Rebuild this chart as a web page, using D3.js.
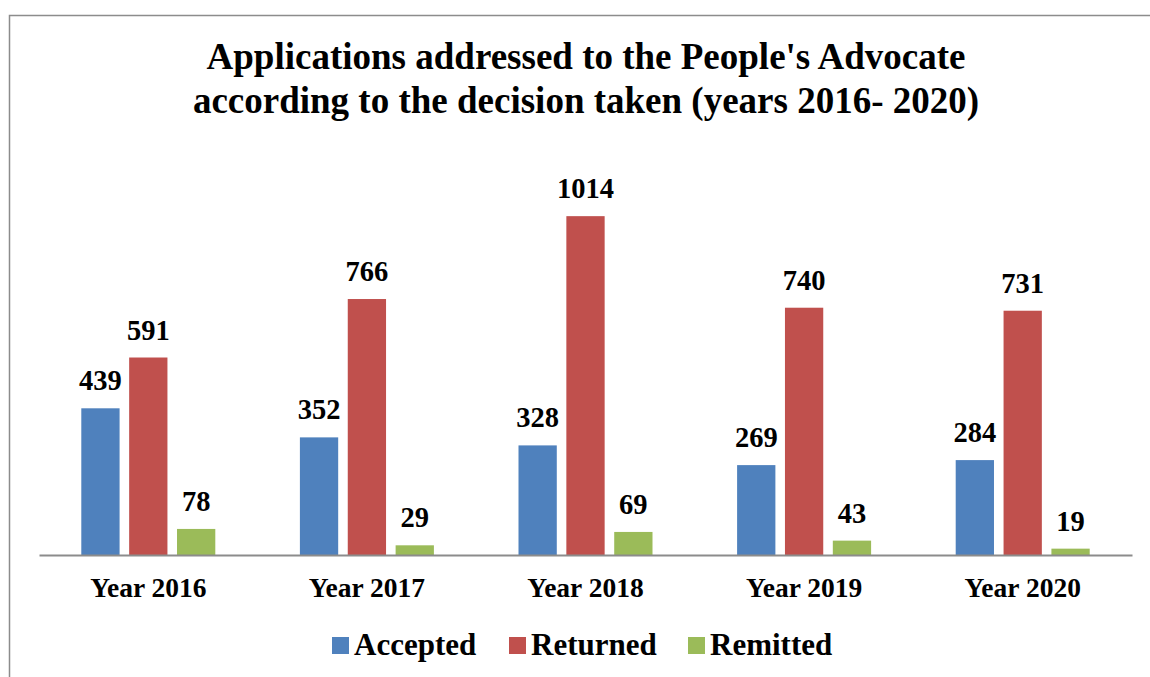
<!DOCTYPE html>
<html>
<head>
<meta charset="utf-8">
<script src="https://cdn.jsdelivr.net/npm/d3@7"></script>
<style>
  body { margin: 0; background: #fff; }
  svg { display: block; font-family: "Liberation Serif", "Times New Roman", serif; font-weight: bold; }
</style>
</head>
<body>
<svg id="chart" width="1150" height="677"></svg>
<script>
// data
const years = ["Year 2016", "Year 2017", "Year 2018", "Year 2019", "Year 2020"];
const seriesNames = ["Accepted", "Returned", "Remitted"];
const accepted = [439, 352, 328, 269, 284];
const returned = [591, 766, 1014, 740, 731];
const remitted = [78, 29, 69, 43, 19];
const colors = ["#4F81BD", "#C0504D", "#9BBB59"];
const titleLines = ["Applications addressed to the People's Advocate",
                    "according to the decision taken (years 2016- 2020)"];

const seriesValues = [accepted, returned, remitted];
const rows = years.map((y, i) => ({
  year: y,
  values: seriesNames.map((s, j) => ({ key: s, value: seriesValues[j][i], color: colors[j] }))
}));

const svg = d3.select("#chart");

// outer frame (only left and top edges are visible)
svg.append("rect")
    .attr("x", 9.5).attr("y", 15.5)
    .attr("width", 1300).attr("height", 800)
    .attr("fill", "none").attr("stroke", "#8c8c8c").attr("stroke-width", 1.5);

// title
svg.append("text")
    .attr("x", 586).attr("y", 69)
    .attr("text-anchor", "middle")
    .attr("font-size", "37px")
    .selectAll("tspan")
    .data(titleLines)
    .join("tspan")
    .attr("x", 586)
    .attr("dy", (d, i) => i === 0 ? 0 : 44)
    .text(d => d);

const x0 = d3.scaleBand().domain(years).range([39, 1132]);
const x1 = d3.scaleBand().domain(seriesNames).range([0, 134]).paddingInner(0.2);
const y = d3.scaleLinear().domain([0, 1200]).range([555, 154]);

const groups = svg.append("g").selectAll("g")
    .data(rows)
    .join("g")
    .attr("transform", d => `translate(${x0(d.year) + x0.bandwidth() / 2 - 67},0)`);

groups.selectAll("rect")
    .data(d => d.values)
    .join("rect")
    .attr("x", d => x1(d.key))
    .attr("width", x1.bandwidth())
    .attr("y", d => y(d.value))
    .attr("height", d => y(0) - y(d.value))
    .attr("fill", d => d.color);

groups.selectAll("text")
    .data(d => d.values)
    .join("text")
    .attr("x", d => x1(d.key) + x1.bandwidth() / 2)
    .attr("y", d => y(d.value) - 18)
    .attr("text-anchor", "middle")
    .attr("font-size", "28.5px")
    .text(d => d.value);

// x axis
const xAxis = svg.append("g")
    .attr("transform", `translate(0,${y(0)})`)
    .call(d3.axisBottom(x0).tickSize(0).tickPadding(0));
xAxis.select(".domain").attr("stroke", "#8c8c8c").attr("stroke-width", 2);
xAxis.selectAll("text")
    .attr("font-family", "Liberation Serif, Times New Roman, serif")
    .attr("font-weight", "bold")
    .attr("font-size", "27.5px")
    .attr("fill", "#000")
    .attr("dy", null)
    .attr("y", 42);

// legend
const legendX = [332, 509, 688];
const legend = svg.append("g").selectAll("g")
    .data(seriesNames)
    .join("g")
    .attr("transform", (d, i) => `translate(${legendX[i]},637)`);
legend.append("rect")
    .attr("width", 17).attr("height", 17)
    .attr("fill", (d, i) => colors[i]);
legend.append("text")
    .attr("x", 22).attr("y", 18)
    .attr("font-size", "31px")
    .text(d => d);
</script>
</body>
</html>
